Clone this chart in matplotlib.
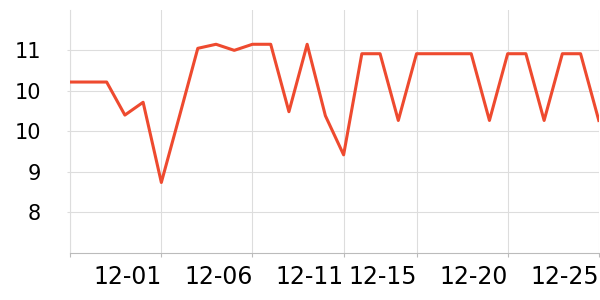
import matplotlib
matplotlib.use('Agg')
import matplotlib.pyplot as plt

# daily values, 11-26 .. 12-25
dates = ['11-26', '11-27', '11-28', '11-29', '11-30', '12-01', '12-02', '12-03',
         '12-04', '12-05', '12-06', '12-07', '12-08', '12-09', '12-10', '12-11',
         '12-12', '12-13', '12-14', '12-15', '12-16', '12-17', '12-18', '12-19',
         '12-20', '12-21', '12-22', '12-23', '12-24', '12-25']
values = [10.33, 10.33, 10.33, 9.84, 10.03, 8.84, 9.83, 10.83,
          10.89, 10.80, 10.89, 10.89, 9.89, 10.89, 9.83, 9.25,
          10.75, 10.75, 9.76, 10.75, 10.75, 10.75, 10.75, 9.76,
          10.75, 10.75, 9.76, 10.75, 10.75, 9.76]

tick_idx = [0, 5, 10, 15, 19, 24, 29]
tick_text = ['', '12-01', '12-06', '12-11', '12-15', '12-20', '12-25']
y_ticks = [8.4, 9.0, 9.6, 10.2, 10.8]
y_text = ['8', '9', '10', '10', '11']

fig = plt.figure(figsize=(6, 3), dpi=100)
ax = fig.add_axes([0.117, 0.158, 0.881, 0.809])

x = list(range(len(values)))
ax.plot(x, values, color='#ee4a2f', linewidth=2.2, zorder=3)

ax.set_xlim(0, 29)
ax.set_ylim(7.8, 11.4)
ax.set_xticks(tick_idx)
ax.set_xticklabels(tick_text, ha='right')
ax.set_yticks(y_ticks)
ax.set_yticklabels(y_text)

ax.grid(True, color='#dddddd', linewidth=0.8)
ax.set_axisbelow(True)
for s in ['top', 'right']:
    ax.spines[s].set_visible(False)
ax.spines['left'].set_color('#dddddd')
ax.spines['bottom'].set_color('#bbbbbb')
ax.tick_params(axis='x', length=3, color='#bbbbbb', labelsize=17, pad=6)
ax.tick_params(axis='y', length=2, color='#dddddd', labelsize=15, pad=19)

fig.savefig('out.png', dpi=100)
